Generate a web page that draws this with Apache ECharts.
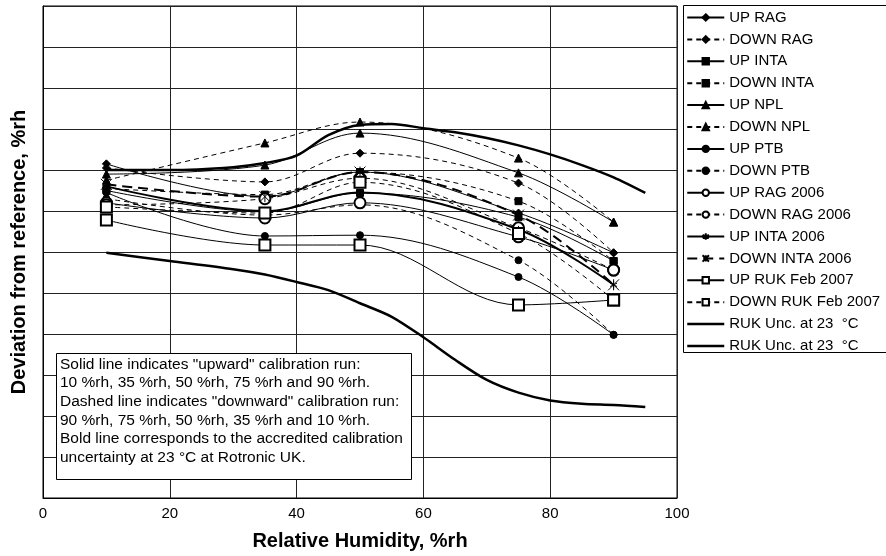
<!DOCTYPE html>
<html>
<head>
<meta charset="utf-8">
<script src="https://cdn.jsdelivr.net/npm/echarts@6/dist/echarts.min.js"></script>
<style>
html, body { margin: 0; padding: 0; background: #fff; }
#main { width: 886px; height: 556px; }
</style>
</head>
<body>
<div id="main"></div>
<script>
// calibration points, %rh
var rhPoints = [10, 35, 50, 75, 90];
var upRag = [8.15, 7.35, 7.95, 6.95, 5.98];
var downRag = [8.05, 7.71, 8.41, 7.68, 5.98];
var upInta = [7.5, 6.98, 7.44, 6.85, 5.78];
var downInta = [7.55, 7.4, 7.95, 7.24, 5.78];
var upNpl = [7.9, 8.12, 8.9, 7.93, 6.73];
var downNpl = [7.75, 8.66, 9.17, 8.29, 6.73];
var upPtb = [7.45, 6.39, 6.41, 5.39, 3.98];
var downPtb = [7.3, 6.9, 7.15, 5.8, 3.98];
var upRag2006 = [7.2, 6.83, 7.2, 6.37, 5.56];
var downRag2006 = [7.15, 7.3, 7.8, 6.59, 5.56];
var upInta2006 = [7.6, 7.0, 7.45, 6.55, 5.2];
var downInta2006 = [7.65, 7.35, 7.95, 6.9, 5.2];
var upRuk2007 = [6.78, 6.17, 6.17, 4.71, 4.83];
var downRuk2007 = [7.1, 6.95, 7.7, 6.45, 4.83];

// uncertainty band
var uncX = [10, 20, 30, 35, 40, 45, 50, 55, 60, 65, 70, 75, 80, 85, 90, 95];
var uncUpper = [8.0, 8.0, 8.07, 8.17, 8.35, 8.85, 9.1, 9.12, 9.02, 8.92, 8.78, 8.6, 8.38, 8.12, 7.82, 7.44];
var uncLower = [5.98, 5.78, 5.58, 5.45, 5.27, 5.07, 4.75, 4.42, 3.92, 3.37, 2.88, 2.57, 2.38, 2.3, 2.27, 2.22];

var xTicks = [0, 20, 40, 60, 80, 100];

var noteLines = [
  'Solid line indicates "upward" calibration run:',
  '10 %rh, 35 %rh, 50 %rh, 75 %rh and 90 %rh.',
  'Dashed line indicates "downward" calibration run:',
  '90 %rh, 75 %rh, 50 %rh, 35 %rh and 10 %rh.',
  'Bold line corresponds to the accredited calibration',
  'uncertainty at 23 \u00b0C at Rotronic UK.'
];

function pairs(xs, ys) {
  return xs.map(function (x, i) { return [x, ys[i]]; });
}

var dash = [5, 4];
var starPath = 'path://M5,0L5,10M0.7,2.5L9.3,7.5M0.7,7.5L9.3,2.5';
var xStarPath = 'path://M0,0L10,10M10,0L0,10M5,0L5,10';
var uncName1 = 'RUK Unc. at 23  \u00b0C';
var uncName2 = 'RUK Unc. at 23  \u00b0C ';

function run(name, ys, symbol, size, dashed, width, extra) {
  var s = {
    name: name,
    type: 'line',
    data: pairs(rhPoints, ys),
    smooth: 0.35,
    symbol: symbol,
    symbolSize: size,
    lineStyle: { color: '#000', width: width || 1, type: dashed ? dash : 'solid' },
    itemStyle: { color: '#000', borderColor: '#000', borderWidth: 1 },
    animation: false
  };
  if (extra) Object.assign(s, extra);
  return s;
}

function uncLine(name, ys) {
  return {
    name: name,
    type: 'line',
    data: pairs(uncX, ys),
    smooth: 0.3,
    showSymbol: false,
    symbol: 'none',
    lineStyle: { color: '#000', width: 2.5 },
    itemStyle: { color: '#000' },
    animation: false
  };
}

var series = [
  run('UP RAG', upRag, 'diamond', 8, false),
  run('DOWN RAG', downRag, 'diamond', 8, true),
  run('UP INTA', upInta, 'rect', 7, false),
  run('DOWN INTA', downInta, 'rect', 7, true),
  run('UP NPL', upNpl, 'triangle', 8, false),
  run('DOWN NPL', downNpl, 'triangle', 8, true),
  run('UP PTB', upPtb, 'circle', 7, false),
  run('DOWN PTB', downPtb, 'circle', 7, true),
  run('UP RAG 2006', upRag2006, 'emptyCircle', 11, false),
  run('DOWN RAG 2006', downRag2006, 'emptyCircle', 11, true),
  run('UP INTA 2006', upInta2006, starPath, 7, false, 2),
  run('DOWN INTA 2006', downInta2006, xStarPath, 11, true, 2, { lineStyle: { color: '#000', width: 2, type: [10, 6] } }),
  run('UP RUK Feb 2007', upRuk2007, 'emptyRect', 11, false),
  run('DOWN RUK Feb 2007', downRuk2007, 'emptyRect', 11, true),
  uncLine(uncName1, uncUpper),
  uncLine(uncName2, uncLower)
];

var legendData = series.map(function (s) {
  if (s.name === uncName1 || s.name === uncName2) {
    return { name: s.name, itemStyle: { opacity: 0 }, lineStyle: { width: 2.5 } };
  }
  return { name: s.name };
});

var myChart = echarts.init(document.getElementById('main'));
var option = {
  backgroundColor: '#fff',
  animation: false,
  textStyle: { fontFamily: 'Liberation Sans, Arial, sans-serif', color: '#000' },
  grid: {
    left: 43,
    right: 209,
    top: 6,
    bottom: 58,
    show: true,
    borderColor: '#000',
    borderWidth: 1
  },
  legend: {
    orient: 'vertical',
    left: 681,
    top: 5,
    itemWidth: 37,
    itemHeight: 8,
    itemGap: 6.9,
    data: legendData,
    textStyle: { fontSize: 15, color: '#000', lineHeight: 14, fontFamily: 'Liberation Sans, Arial, sans-serif' }
  },
  xAxis: {
    type: 'value',
    min: 0,
    max: 100,
    interval: 20,
    name: 'Relative Humidity, %rh',
    nameLocation: 'middle',
    nameGap: 33,
    nameTextStyle: { fontSize: 20, fontWeight: 'bold', color: '#000' },
    axisLine: { show: true, lineStyle: { color: '#000', width: 1 } },
    axisTick: { show: false },
    axisLabel: {
      fontSize: 15,
      color: '#000',
      margin: 8,
      formatter: function (v) { return xTicks.indexOf(v) >= 0 ? String(v) : ''; }
    },
    splitLine: { show: true, lineStyle: { color: '#222', width: 1 } }
  },
  yAxis: {
    type: 'value',
    min: 0,
    max: 12,
    interval: 1,
    name: 'Deviation from reference, %rh',
    nameLocation: 'middle',
    nameGap: 14,
    nameTextStyle: { fontSize: 20, fontWeight: 'bold', color: '#000' },
    axisLine: { show: true, lineStyle: { color: '#000', width: 1 } },
    axisTick: { show: false },
    axisLabel: { show: false },
    splitLine: { show: true, lineStyle: { color: '#222', width: 1 } }
  },
  graphic: [
    {
      type: 'rect',
      left: 681,
      top: 3,
      z: 100,
      shape: { width: 210, height: 347 },
      style: { fill: 'none', stroke: '#000', lineWidth: 1 }
    },
    {
      type: 'rect',
      left: 56,
      top: 353,
      z: 100,
      shape: { width: 355, height: 126 },
      style: { fill: '#fff', stroke: '#000', lineWidth: 1 }
    },
    {
      type: 'text',
      left: 60,
      top: 355,
      z: 101,
      style: {
        text: noteLines.join('\n'),
        font: '15.5px "Liberation Sans", Arial, sans-serif',
        lineHeight: 18.7,
        fill: '#000'
      }
    }
  ],
  series: series
};
myChart.setOption(option);
</script>
</body>
</html>
